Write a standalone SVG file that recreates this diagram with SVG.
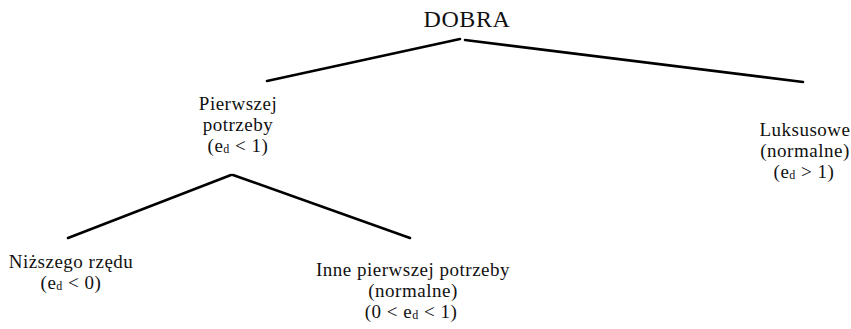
<svg xmlns="http://www.w3.org/2000/svg" width="851" height="329" viewBox="0 0 851 329">
  <style>
    .lbl { font-family: "Liberation Serif", "Times New Roman", serif; font-size: 19px; letter-spacing: 0.5px; fill: #111; text-anchor: middle; }
    .root { font-size: 24px; letter-spacing: 0.6px; }
    .sub { font-size: 12px; }
    .edge { stroke: #000; stroke-width: 2.6; stroke-linecap: round; fill: none; }
  </style>
  <rect width="851" height="329" fill="#fff"/>

  <g id="connectors">
    <line class="edge" x1="460" y1="39" x2="267" y2="81"/>
    <line class="edge" x1="465" y1="40" x2="803" y2="82"/>
    <line class="edge" x1="231" y1="175" x2="68" y2="238"/>
    <line class="edge" x1="233" y1="175" x2="410" y2="238"/>
  </g>

  <g id="dobra">
    <text class="lbl root" x="467" y="27">DOBRA</text>
  </g>

  <g id="pierwszej-potrzeby">
    <text class="lbl" x="238" y="110">Pierwszej</text>
    <text class="lbl" x="238" y="131">potrzeby</text>
    <text class="lbl" x="238" y="152">(e<tspan class="sub" dy="1">d</tspan><tspan dy="-1"> &lt; 1)</tspan></text>
  </g>

  <g id="luksusowe">
    <text class="lbl" x="805" y="136">Luksusowe</text>
    <text class="lbl" x="805" y="157">(normalne)</text>
    <text class="lbl" x="804" y="178">(e<tspan class="sub" dy="1">d</tspan><tspan dy="-1"> &gt; 1)</tspan></text>
  </g>

  <g id="nizszego-rzedu">
    <text class="lbl" x="71" y="268">Niższego rzędu</text>
    <text class="lbl" x="71" y="289">(e<tspan class="sub" dy="1">d</tspan><tspan dy="-1"> &lt; 0)</tspan></text>
  </g>

  <g id="inne-pierwszej-potrzeby">
    <text class="lbl" x="413" y="276">Inne pierwszej potrzeby</text>
    <text class="lbl" x="413" y="297">(normalne)</text>
    <text class="lbl" x="411" y="318">(0 &lt; e<tspan class="sub" dy="1">d</tspan><tspan dy="-1"> &lt; 1)</tspan></text>
  </g>
</svg>
